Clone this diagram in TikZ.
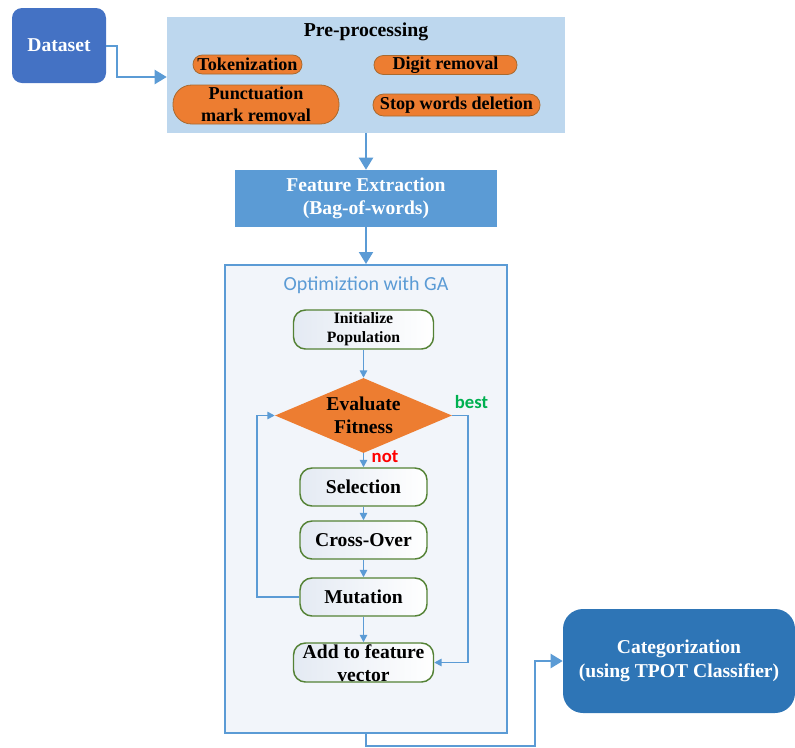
\documentclass[tikz,border=0pt]{standalone}
\usepackage{fontspec}
\setmainfont{Liberation Serif}
\newfontfamily\calib{Carlito}
\usetikzlibrary{arrows.meta,shapes.geometric,calc}
\definecolor{dsblue}{HTML}{4472C4}
\definecolor{ppblue}{HTML}{BDD7EE}
\definecolor{feblue}{HTML}{5B9BD5}
\definecolor{catblue}{HTML}{2E75B6}
\definecolor{lnblue}{HTML}{5B9BD5}
\definecolor{pillorange}{HTML}{ED7D31}
\definecolor{pillborder}{HTML}{A86A30}
\definecolor{gagreen}{HTML}{548235}
\definecolor{gafill}{HTML}{F2F5FA}
\definecolor{boxshade}{HTML}{E4EAF3}
\definecolor{bestgreen}{HTML}{00B050}
\begin{document}
\begin{tikzpicture}[x=0.75pt,y=-0.75pt,
  bigtxt/.style={font=\bfseries\fontsize{14.7}{17.5}\selectfont, align=center},
  pilltxt/.style={font=\bfseries\fontsize{13.6}{16.5}\selectfont, align=center},
  bluebox/.style={draw=none, inner sep=0pt, text=white, bigtxt},
  pill/.style={draw=pillborder, line width=0.6pt, fill=pillorange, inner sep=0pt, pilltxt},
  gabox/.style={draw=gagreen, line width=1.1pt, left color=boxshade, right color=white, inner sep=0pt, rounded corners=9pt},
  bigarr/.style={draw=lnblue, line width=1.5pt, -{Triangle[length=9pt,width=10.5pt]}},
  smallarr/.style={draw=lnblue, line width=1.2pt, -{Triangle[length=5.5pt,width=5.5pt]}},
  plainln/.style={draw=lnblue, line width=1.5pt}
]
\useasboundingbox (0,0) rectangle (795,747);

% Dataset
\node[bluebox, fill=dsblue, rounded corners=7.5pt, minimum width=70.5pt, minimum height=56.25pt] (dataset) at (59,45.5) {Dataset};

% Pre-processing
\node[fill=ppblue, draw=none, inner sep=0pt, minimum width=298.5pt, minimum height=87pt] (pre) at (366,75) {};
\node[font=\bfseries\fontsize{14.8}{17}\selectfont] (pretitle) at (366,32) {Pre-processing};
\node[pill, rounded corners=7pt, minimum width=81.75pt, minimum height=14.25pt] (tok) at (247.5,64.5) {Tokenization};
\node[pill, rounded corners=7pt, minimum width=107.25pt, minimum height=14.25pt] (digit) at (445.5,65) {Digit removal};
\node[pill, rounded corners=14pt, minimum width=124.5pt, minimum height=29.25pt] (punct) at (256,104.5) {Punctuation\\mark removal};
\node[pill, rounded corners=8pt, minimum width=125.25pt, minimum height=16.5pt] (stop) at (456.5,105) {Stop words deletion};

% Feature extraction
\node[bluebox, fill=feblue, minimum width=196.5pt, minimum height=42.75pt] (fe) at (366,198.5) {Feature Extraction\\(Bag-of-words)};

% GA container
\node[draw=lnblue, line width=1.5pt, fill=gafill, inner sep=0pt, minimum width=211.5pt, minimum height=351pt] (ga) at (366,499) {};
\node[font=\calib\fontsize{15}{18}\selectfont, text=feblue] (gatitle) at (366,285) {Optimiztion with GA};

\node[gabox, minimum width=105pt, minimum height=29.25pt, font=\bfseries\fontsize{11.8}{14.2}\selectfont, align=center] (init) at (363.5,329.5) {Initialize\\Population};

\node[diamond, fill=pillorange, draw=none, inner sep=0pt, minimum width=132.75pt, minimum height=56.25pt] (eval) at (363.5,415.5) {};
\node[bigtxt] (evaltxt) at (eval) {Evaluate\\Fitness};

\node[font=\calib\bfseries\fontsize{14}{16}\selectfont, text=bestgreen] (best) at (471.5,402) {best};
\node[font=\calib\bfseries\fontsize{14}{16}\selectfont, text=red] (not) at (385,457) {not};

\node[gabox, minimum width=95.25pt, minimum height=28.5pt, bigtxt] (sel) at (363.5,487) {Selection};
\node[gabox, minimum width=95.25pt, minimum height=28.5pt, bigtxt] (cross) at (363.5,540) {Cross-Over};
\node[gabox, minimum width=95.25pt, minimum height=28.5pt, bigtxt] (mut) at (363.5,597) {Mutation};
\node[gabox, minimum width=105pt, minimum height=29.25pt] (add) at (363.5,662.5) {};
\node[bigtxt] (addtxt) at (363.5,663.5) {Add to feature\\vector};

% Categorization
\node[bluebox, fill=catblue, rounded corners=15pt, minimum width=174pt, minimum height=78pt] (cat) at (679,661) {Categorization\\(using TPOT Classifier)};

% Connectors
\draw[bigarr] (dataset.east) -- ++(11,0) |- ([yshift=-1.5pt]pre.west);
\draw[bigarr] (pre.south) -- (fe.north);
\draw[bigarr] (fe.south) -- (ga.north);
\draw[smallarr] (init.south) -- (eval.north);
\draw[smallarr] (eval.south) -- (sel.north);
\draw[smallarr] (sel.south) -- (cross.north);
\draw[smallarr] (cross.south) -- (mut.north);
\draw[smallarr] (mut.south) -- (add.north);
\draw[smallarr] (mut.west) -- ++(-42,0) |- (eval.west);
\draw[smallarr] (eval.east) -- ++(16,0) |- (add.east);
\draw[bigarr] (ga.south) -- ++(0,12) -| ([xshift=-21pt]cat.west) -- (cat.west);
\end{tikzpicture}
\end{document}
